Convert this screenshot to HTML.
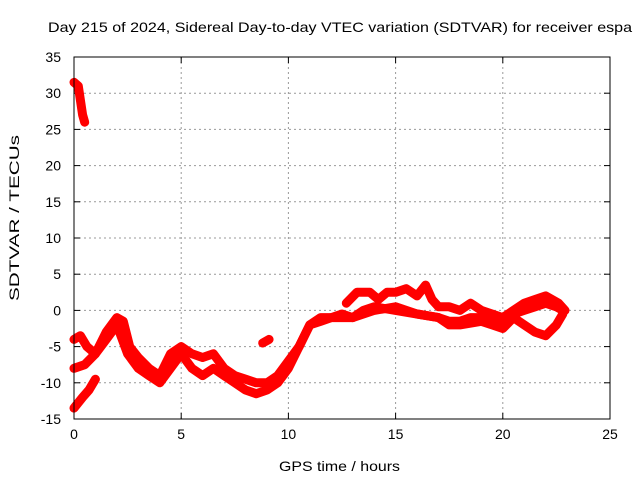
<!DOCTYPE html>
<html><head><meta charset="utf-8"><style>
body{margin:0;background:#fff;}
svg{display:block;font-family:"Liberation Sans",sans-serif;}
</style></head><body>
<svg id="chart" width="640" height="480">
<text x="48" y="32" font-size="14" textLength="584" lengthAdjust="spacingAndGlyphs">Day 215 of 2024, Sidereal Day-to-day VTEC variation (SDTVAR) for receiver espa</text>
<text x="279" y="471" font-size="14" textLength="121" lengthAdjust="spacingAndGlyphs">GPS time / hours</text>
<text transform="translate(19,301) rotate(-90)" font-size="14" textLength="166" lengthAdjust="spacingAndGlyphs">SDTVAR / TECUs</text>
<g id="grid"></g>
<g id="ticks"></g>
<g id="series"></g>
<rect x="74" y="57" width="536" height="362" fill="none" stroke="#000" stroke-width="1"/>
</svg>
<script>
const xTicks=[0,5,10,15,20,25];
const yTicks=[35,30,25,20,15,10,5,0,-5,-10,-15];
const seriesUpperX=[0,0.3,0.6,1,1.5,2,2.3,2.6,3,3.5,4,4.5,5,5.5,6,6.5,7,7.5,8,8.5,9,9.5,10,10.5,11,11.5,12,12.5,13,13.5,14,15,16,17,17.5,18,18.5,19,19.5,20,20.5,21,21.5,22,22.5,22.8];
const seriesUpperY=[-4,-3.5,-5,-6,-3,-1,-1.5,-5,-6.5,-8,-9,-6,-5,-6,-6.5,-6,-8,-9,-9.5,-10,-10,-9,-7,-5,-2,-1,-1,-0.5,-1,0,0.5,0,-0.5,-1,-1.5,-1.5,-1,-1,-1.5,-1.5,-0.5,0,0.5,1,0.5,0];
const seriesLowerX=[0,0.5,1,1.5,2,2.5,3,3.5,4,4.5,5,5.5,6,6.5,7,7.5,8,8.5,9,9.5,10,10.5,11,11.5,12,13,13.5,14,15,16,17,17.5,18,19,19.5,20,20.5,21,21.5,22,22.5,22.8];
const seriesLowerY=[-8,-7.5,-6,-4,-2,-6,-8,-9,-10,-8,-6,-8,-9,-8,-9,-10,-11,-11.5,-11,-10,-8,-5,-2,-1.5,-1,-1,-0.5,0,0.5,-0.5,-1,-2,-2,-1.5,-2,-2.5,-1,-2,-3,-3.5,-2,-0.5];
const seriesLoopX=[12.7,13.2,13.8,14.2,14.6,15,15.5,16,16.4,16.7,17,17.5,18,18.5,19,19.5,20,20.5,21,21.5,22,22.6,22.9];
const seriesLoopY=[1,2.5,2.5,1.5,2.5,2.5,3,2,3.5,1.5,0.5,0.5,0,1,0,-0.5,-1,0,1,1.5,2,1,0];
const seriesStartX=[0,0.2,0.4,0.5];
const seriesStartY=[31.5,31,27,26];
const seriesLowStartX=[0,0.4,0.7,1];
const seriesLowStartY=[-13.5,-12,-11,-9.5];
const seriesBlipX=[8.8,9.1];
const seriesBlipY=[-4.5,-4];
const X0=74,X1=610,Y0=419,Y1=57;
const sx=v=>X0+(v-0)/(25-0)*(X1-X0);
const sy=v=>Y0-(v+15)/(35+15)*(Y0-Y1);
const NS="http://www.w3.org/2000/svg";
const grid=document.getElementById('grid'),ticks=document.getElementById('ticks'),ser=document.getElementById('series');
function mk(t,a,p){const e=document.createElementNS(NS,t);for(const k in a)e.setAttribute(k,a[k]);p.appendChild(e);return e;}
xTicks.forEach(v=>{const x=sx(v);
 if(v>0&&v<25){const g=mk('line',{x1:x,x2:x,y1:Y1,y2:Y0,stroke:'#999','stroke-dasharray':'2,3'},grid);
 
 }
 const t=mk('text',{x:x,y:Y0+20,'font-size':14,'text-anchor':'middle'},ticks);t.textContent=v;
 
 
 mk('line',{x1:x,x2:x,y1:Y0,y2:Y0-6,stroke:'#000'},ticks);mk('line',{x1:x,x2:x,y1:Y1,y2:Y1+6,stroke:'#000'},ticks);});
yTicks.forEach(v=>{const y=sy(v);
 if(v>-15&&v<35){const g=mk('line',{x1:X0,x2:X1,y1:y,y2:y,stroke:'#999','stroke-dasharray':'2,3'},grid);
 
 }
 const t=mk('text',{x:X0-13,y:y+5,'font-size':14,'text-anchor':'end'},ticks);t.textContent=v;
 
 
 mk('line',{x1:X0,x2:X0+6,y1:y,y2:y,stroke:'#000'},ticks);mk('line',{x1:X1,x2:X1-6,y1:y,y2:y,stroke:'#000'},ticks);});
function draw(xs,ys,name){const d=xs.map((x,i)=>(i?'L':'M')+sx(x).toFixed(1)+' '+sy(ys[i]).toFixed(1)).join(' ');
 const p=mk('path',{d:d,fill:'none',stroke:'#f00','stroke-width':9,'stroke-linejoin':'round','stroke-linecap':'round'},ser);
 
 }
draw(seriesUpperX,seriesUpperY,'sdtvar-upper-trace');
draw(seriesLowerX,seriesLowerY,'sdtvar-lower-trace');
draw(seriesLoopX,seriesLoopY,'sdtvar-loop-trace');
draw(seriesStartX,seriesStartY,'sdtvar-start-trace');
draw(seriesLowStartX,seriesLowStartY,'sdtvar-low-start-trace');
draw(seriesBlipX,seriesBlipY,'sdtvar-blip-trace');
</script>
</body></html>
